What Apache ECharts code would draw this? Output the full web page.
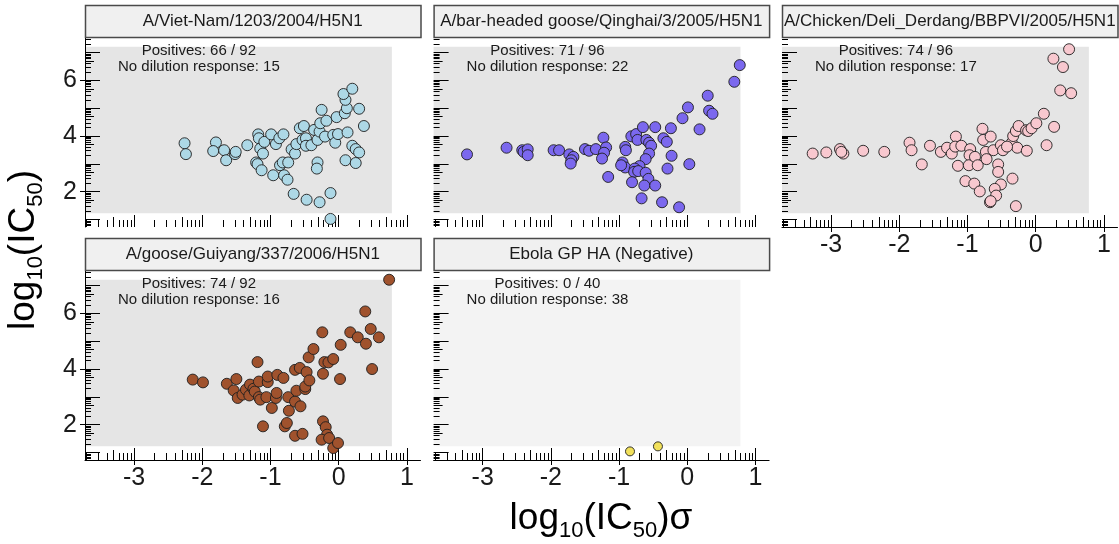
<!DOCTYPE html>
<html>
<head>
<meta charset="utf-8">
<script src="https://cdn.jsdelivr.net/npm/echarts@6/dist/echarts.min.js"></script>
<style>
  html, body { margin: 0; padding: 0; background: #ffffff; }
  #chart { width: 1119px; height: 544px; }
</style>
</head>
<body>
<div id="chart"></div>
<script>
// ---- data -----------------------------------------------------------------
const panelTitles = [
  'A/Viet-Nam/1203/2004/H5N1',
  'A/bar-headed goose/Qinghai/3/2005/H5N1',
  'A/Chicken/Deli_Derdang/BBPVI/2005/H5N1',
  'A/goose/Guiyang/337/2006/H5N1',
  'Ebola GP HA (Negative)'
];
const positives = [66, 71, 74, 74, 0];
const totals = [92, 96, 96, 92, 40];
const noDilutionResponse = [15, 22, 17, 16, 38];

// [log10(IC50)sigma, log10(IC50)]
const vietNam = [
  [-2.26, 3.74], [-2.24, 3.35], [-1.80, 3.77], [-1.84, 3.46], [-1.68, 3.49], [-1.65, 3.13],
  [-1.52, 3.35], [-1.51, 3.43], [-1.34, 3.67], [-1.18, 4.06], [-1.17, 3.92], [-1.15, 3.55],
  [-1.11, 3.37], [-1.09, 3.79], [-1.21, 3.05], [-1.19, 2.99], [-1.13, 2.77], [-0.99, 4.06],
  [-0.92, 3.71], [-0.87, 3.92], [-0.81, 4.06], [-0.96, 2.59], [-0.86, 2.95], [-0.82, 3.05],
  [-0.74, 3.05], [-0.80, 2.59], [-0.75, 2.43], [-0.69, 3.52], [-0.64, 3.37], [-0.62, 3.71],
  [-0.57, 4.28], [-0.51, 4.36], [-0.53, 3.86], [-0.48, 3.92], [-0.48, 3.65], [-0.40, 3.67],
  [-0.66, 1.92], [-0.47, 1.71], [-0.36, 4.22], [-0.31, 3.86], [-0.28, 4.16], [-0.27, 4.46],
  [-0.25, 4.94], [-0.31, 3.05], [-0.32, 2.83], [-0.28, 1.62], [-0.20, 3.98], [-0.18, 4.55],
  [-0.12, 1.95], [-0.12, 1.02], [-0.08, 4.04], [-0.05, 3.76], [-0.03, 4.68], [-0.01, 4.07],
  [0.10, 3.13], [0.09, 4.82], [0.12, 5.00], [0.10, 5.30], [0.07, 5.51], [0.20, 5.70],
  [0.13, 4.13], [0.20, 3.65], [0.25, 3.53], [0.30, 3.41], [0.25, 3.03], [0.30, 4.98],
  [0.37, 4.36]
];
const qinghai = [
  [-3.23, 3.34], [-2.65, 3.58], [-2.42, 3.49], [-2.40, 3.43], [-2.34, 3.52], [-2.34, 3.31],
  [-1.96, 3.49], [-1.88, 3.49], [-1.73, 3.34], [-1.67, 3.25], [-1.70, 3.13], [-1.71, 3.01],
  [-1.50, 3.53], [-1.44, 3.47], [-1.34, 3.53], [-1.23, 3.94], [-1.19, 3.59], [-1.22, 3.40],
  [-1.25, 3.19], [-1.16, 2.53], [-0.91, 3.61], [-0.90, 3.49], [-0.95, 3.05], [-0.91, 2.87],
  [-0.97, 2.95], [-0.82, 3.99], [-0.75, 4.07], [-0.73, 3.86], [-0.65, 4.32], [-0.60, 3.86],
  [-0.56, 3.76], [-0.53, 3.65], [-0.56, 3.37], [-0.61, 3.17], [-0.70, 2.92], [-0.77, 2.83],
  [-0.78, 2.71], [-0.72, 2.74], [-0.61, 2.68], [-0.57, 2.46], [-0.81, 2.34], [-0.63, 2.22],
  [-0.47, 2.22], [-0.67, 1.76], [-0.47, 4.32], [-0.35, 3.92], [-0.30, 3.79], [-0.23, 3.29],
  [-0.29, 2.83], [-0.24, 4.28], [-0.37, 1.62], [-0.12, 1.44], [-0.07, 4.64], [0.01, 5.03],
  [0.03, 2.99], [0.18, 4.24], [0.30, 5.45], [0.32, 4.91], [0.37, 4.80], [0.69, 5.95],
  [0.77, 6.55]
];
const deliDerdang = [
  [-3.27, 3.37], [-3.07, 3.41], [-2.87, 3.53], [-2.82, 3.37], [-2.85, 3.43], [-2.53, 3.47],
  [-2.22, 3.43], [-1.85, 3.76], [-1.82, 3.49], [-1.67, 2.98], [-1.55, 3.65], [-1.39, 3.43],
  [-1.30, 3.58], [-1.23, 3.37], [-1.17, 3.98], [-1.18, 3.62], [-1.09, 3.65], [-1.14, 2.93],
  [-0.96, 3.53], [-0.97, 3.31], [-0.98, 2.95], [-0.89, 3.25], [-0.85, 2.95], [-1.03, 2.38],
  [-0.90, 2.29], [-0.82, 2.01], [-0.78, 4.26], [-0.77, 3.86], [-0.73, 3.43], [-0.72, 3.17],
  [-0.66, 3.98], [-0.62, 3.49], [-0.55, 2.98], [-0.55, 2.71], [-0.51, 3.67], [-0.48, 3.49],
  [-0.51, 2.26], [-0.60, 2.10], [-0.58, 1.86], [-0.67, 1.62], [-0.66, 1.66], [-0.35, 3.76],
  [-0.33, 4.00], [-0.29, 4.18], [-0.25, 4.36], [-0.27, 3.58], [-0.34, 2.47], [-0.29, 1.48],
  [-0.14, 4.21], [-0.11, 4.18], [-0.13, 3.47], [-0.06, 4.28], [0.01, 4.46], [0.12, 4.80],
  [0.16, 3.67], [0.27, 4.33], [0.26, 6.78], [0.40, 6.48], [0.49, 7.12], [0.36, 5.64],
  [0.52, 5.54], [-0.42, 3.62]
];
const guiyang = [
  [-2.14, 3.62], [-1.99, 3.52], [-1.64, 3.47], [-1.50, 3.64], [-1.54, 3.23], [-1.48, 2.96],
  [-1.41, 3.08], [-1.36, 3.26], [-1.30, 3.44], [-1.31, 3.05], [-1.25, 3.29], [-1.23, 3.19],
  [-1.19, 4.25], [-1.17, 3.55], [-1.17, 2.99], [-1.15, 2.90], [-1.11, 1.94], [-1.06, 2.99],
  [-1.04, 3.53], [-1.04, 3.73], [-0.98, 2.60], [-0.92, 2.96], [-0.90, 3.79], [-0.91, 3.14],
  [-0.81, 3.68], [-0.74, 2.99], [-0.73, 2.50], [-0.79, 1.94], [-0.76, 2.06], [-0.64, 3.97],
  [-0.64, 2.83], [-0.62, 3.22], [-0.57, 4.04], [-0.56, 2.66], [-0.64, 1.60], [-0.53, 1.67],
  [-0.49, 3.28], [-0.49, 3.37], [-0.47, 3.89], [-0.43, 3.59], [-0.44, 4.42], [-0.37, 4.72],
  [-0.24, 5.32], [-0.23, 3.83], [-0.21, 4.25], [-0.15, 4.24], [-0.08, 4.36], [-0.23, 2.12],
  [-0.19, 1.91], [-0.17, 1.64], [-0.25, 1.46], [-0.14, 1.52], [-0.08, 1.16], [-0.01, 1.34],
  [0.02, 3.64], [0.03, 4.87], [0.17, 5.32], [0.28, 5.14], [0.39, 6.07], [0.40, 4.91],
  [0.47, 5.44], [0.49, 4.00], [0.59, 5.14], [0.74, 7.21]
];
const ebolaNegative = [[-0.84, 1.04], [-0.43, 1.22]];

const panelData = [vietNam, qinghai, deliDerdang, guiyang, ebolaNegative];
const pointColors = ['#add8e6', '#7b68ee', '#f8c8cf', '#a0522d', '#f1e05a'];
const boxColors = ['#e5e5e5', '#e5e5e5', '#e5e5e5', '#e5e5e5', '#f3f3f3'];

// axis ranges and tick positions
const X_MIN = -3.72, X_MAX = 1.2;
const Y_MIN = 0.73, Y_MAX = 7.56;
const xMajor = [-3, -2, -1, 0, 1];
const yLabelled = [2, 4, 6];
const yMajor = [1, 2, 3, 4, 5, 6, 7];
// shaded box behind the points (same extent in every panel)
const BOX_X = [X_MIN, 0.78];
const BOX_Y = [1.22, 7.21];

function logMinor(lo, hi, mids) {
  const out = [];
  for (let n = Math.floor(lo) - 1; n <= Math.ceil(hi); n++) {
    for (let k = 2; k <= 9; k++) {
      if ((k === 5) !== mids) continue;
      const v = n + Math.log10(k);
      if (v > lo && v < hi) out.push(+v.toFixed(4));
    }
  }
  return out;
}
const xMinor = logMinor(X_MIN, X_MAX, false);
const xMid = logMinor(X_MIN, X_MAX, true);
const yMinor = logMinor(Y_MIN, Y_MAX, false);
const yMid = logMinor(Y_MIN, Y_MAX, true);

// ---- layout ---------------------------------------------------------------
const COL_LEFT = [85, 433.6, 782];
const ROW_TOP = [37, 270];
const PANEL_W = 335.5;
const PANEL_H = 190;
const STRIP_H = 32;
const panels = [
  { col: 0, row: 0, xLab: false, yLab: true },
  { col: 1, row: 0, xLab: false, yLab: false },
  { col: 2, row: 0, xLab: true,  yLab: false },
  { col: 0, row: 1, xLab: true,  yLab: true },
  { col: 1, row: 1, xLab: true,  yLab: false }
];

const tickStyle = { color: '#000', width: 1 };
const labelFont = { fontFamily: 'Liberation Sans, Arial, sans-serif', fontSize: 25, color: '#1a1a1a' };
const FONT = '"Liberation Sans", Arial, sans-serif';

const grids = [], xAxes = [], yAxes = [], series = [], graphics = [];

panels.forEach((p, i) => {
  const left = COL_LEFT[p.col], top = ROW_TOP[p.row];
  grids.push({ left: left, top: top, width: PANEL_W, height: PANEL_H, containLabel: false });

  const hiddenLine = { show: false, onZero: false };
  const xBase = { type: 'value', gridIndex: i, min: X_MIN, max: X_MAX, position: 'bottom', z: 5,
    splitLine: { show: false }, axisLine: hiddenLine, axisLabel: { show: false } };
  const yBase = { type: 'value', gridIndex: i, min: Y_MIN, max: Y_MAX, position: 'left', z: 5,
    splitLine: { show: false }, axisLine: hiddenLine, axisLabel: { show: false } };

  // x: integer ticks (inside), outward stubs + labels, log minor ticks
  xAxes.push(Object.assign({}, xBase, {
    axisLine: { show: p.xLab, onZero: false, lineStyle: tickStyle },
    axisTick: { show: true, inside: true, length: 12, customValues: xMajor, lineStyle: tickStyle }
  }));
  xAxes.push(Object.assign({}, xBase, {
    axisTick: { show: p.xLab, inside: false, length: 5, customValues: xMajor, lineStyle: tickStyle },
    axisLabel: Object.assign({ show: p.xLab, customValues: xMajor, margin: 6 }, labelFont)
  }));
  xAxes.push(Object.assign({}, xBase, {
    axisTick: { show: true, inside: true, length: 7, customValues: xMinor, lineStyle: tickStyle }
  }));
  xAxes.push(Object.assign({}, xBase, {
    axisTick: { show: true, inside: true, length: 10, customValues: xMid, lineStyle: tickStyle }
  }));

  // y: integer ticks (inside), outward stubs + labels, log minor ticks
  yAxes.push(Object.assign({}, yBase, {
    axisLine: { show: p.yLab, onZero: false, lineStyle: tickStyle },
    axisTick: { show: true, inside: true, length: 15, customValues: yMajor, lineStyle: tickStyle }
  }));
  yAxes.push(Object.assign({}, yBase, {
    axisTick: { show: p.yLab, inside: false, length: 5, customValues: yLabelled, lineStyle: tickStyle },
    axisLabel: Object.assign({ show: p.yLab, customValues: yLabelled, margin: 8 }, labelFont)
  }));
  yAxes.push(Object.assign({}, yBase, {
    axisTick: { show: true, inside: true, length: 6, customValues: yMinor, lineStyle: tickStyle }
  }));
  yAxes.push(Object.assign({}, yBase, {
    axisTick: { show: true, inside: true, length: 9, customValues: yMid, lineStyle: tickStyle }
  }));

  series.push({
    type: 'scatter',
    xAxisIndex: i * 4,
    yAxisIndex: i * 4,
    data: panelData[i],
    symbol: 'circle',
    symbolSize: i === 4 ? 9 : 11,
    z: 6,
    itemStyle: { color: pointColors[i], borderColor: '#1e1e1e', borderWidth: 0.9, opacity: 1 },
    emphasis: { disabled: true },
    markArea: {
      silent: true,
      z: 1,
      itemStyle: { color: boxColors[i], opacity: 1, borderWidth: 0 },
      data: [[{ coord: [BOX_X[0], BOX_Y[0]] }, { coord: [BOX_X[1], BOX_Y[1]] }]]
    }
  });

  // strip with the antigen name
  graphics.push({
    type: 'rect', z: 10,
    shape: { x: left + 0.5, y: top - STRIP_H + 0.5, width: PANEL_W, height: STRIP_H },
    style: { fill: '#f0f0f0', stroke: '#4a4a4a', lineWidth: 1.5 }
  });
  graphics.push({
    type: 'text', z: 11,
    x: left + PANEL_W / 2, y: top - STRIP_H / 2,
    style: { text: panelTitles[i], fill: '#1a1a1a', font: '17px ' + FONT,
             align: 'center', verticalAlign: 'middle' }
  });

  // counts in the upper-left corner of the panel
  const unit = PANEL_W / (X_MAX - X_MIN);
  const cx = left + (-2.05 - X_MIN) * unit;
  graphics.push({
    type: 'text', z: 11, x: cx, y: top + 14,
    style: { text: 'Positives: ' + positives[i] + ' / ' + totals[i], fill: '#1a1a1a',
             font: '15px ' + FONT, align: 'center', verticalAlign: 'middle' }
  });
  graphics.push({
    type: 'text', z: 11, x: cx, y: top + 30,
    style: { text: 'No dilution response: ' + noDilutionResponse[i], fill: '#1a1a1a',
             font: '15px ' + FONT, align: 'center', verticalAlign: 'middle' }
  });
});

// axis titles with subscripts
const titleRich = {
  a: { fontSize: 37, fontFamily: 'Liberation Sans, Arial, sans-serif', color: '#1a1a1a', verticalAlign: 'top', lineHeight: 44 },
  s: { fontSize: 22, fontFamily: 'Liberation Sans, Arial, sans-serif', color: '#1a1a1a', verticalAlign: 'top', lineHeight: 44, padding: [20, 0, 0, 0] }
};
graphics.push({
  type: 'text', z: 11, x: 601, y: 522,
  style: { text: '{a|log}{s|10}{a|(IC}{s|50}{a|)σ}', rich: titleRich, align: 'center', verticalAlign: 'middle' }
});
graphics.push({
  type: 'text', z: 11, x: 27, y: 250, rotation: Math.PI / 2,
  style: { text: '{a|log}{s|10}{a|(IC}{s|50}{a|)}', rich: titleRich, align: 'center', verticalAlign: 'middle' }
});

const chart = echarts.init(document.getElementById('chart'), null, { renderer: 'canvas' });
chart.setOption({
  animation: false,
  backgroundColor: '#ffffff',
  grid: grids,
  xAxis: xAxes,
  yAxis: yAxes,
  series: series,
  graphic: graphics
});
</script>
</body>
</html>
